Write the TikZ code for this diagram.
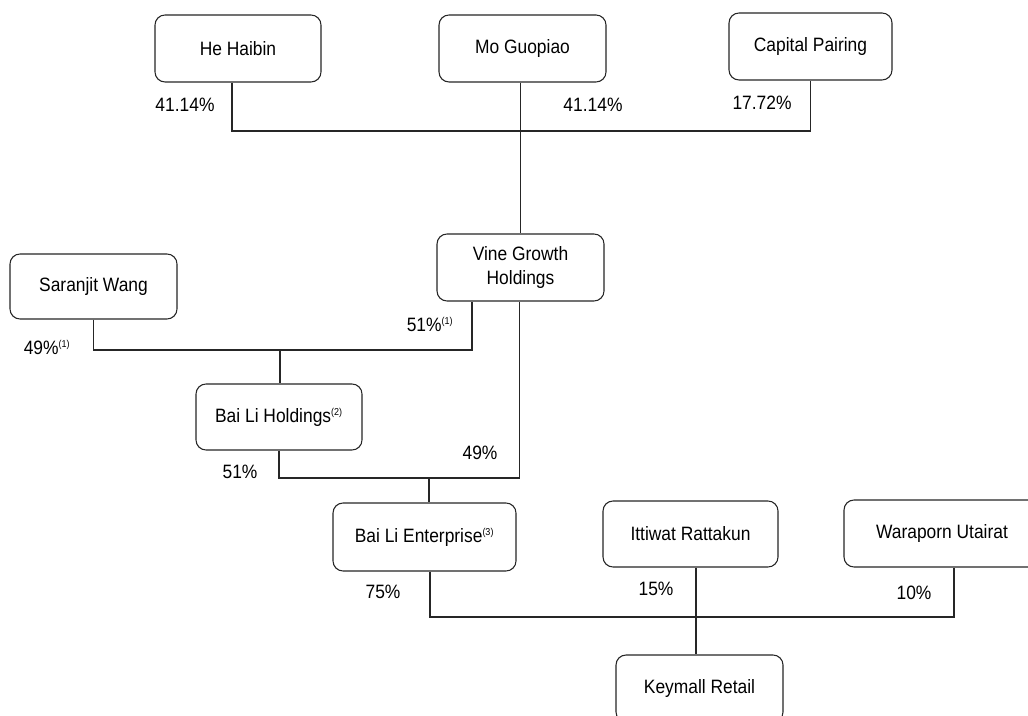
\documentclass[tikz,border=0pt]{standalone}
\usepackage{fontspec}
\setmainfont{Liberation Sans}[FakeStretch=0.9]
\newcommand{\fnref}[1]{\textsuperscript{\fontsize{7.5}{8}\selectfont(#1)}}
\begin{document}
\begin{tikzpicture}[x=0.75pt, y=-0.75pt,
  entity/.style={draw=black!85, line width=0.8pt, rounded corners=7.5pt, fill=white,
    inner sep=0pt, align=center, font=\fontsize{14.5}{17.3}\selectfont},
  share/.style={inner sep=0pt, font=\fontsize{14.5}{15}\selectfont},
  link/.style={draw=black!85, line width=0.8pt}]
\useasboundingbox (0,0) rectangle (1028,716);
\clip (0,0) rectangle (1028,716);

% shareholders at the top
\node[entity, minimum width=124.5pt, minimum height=50.25pt] (hh) at (238,48.5) {He Haibin};
\node[entity, minimum width=125.25pt, minimum height=50.25pt] (mg) at (522.5,48.5) {Mo Guopiao};
\node[entity, minimum width=122.25pt, minimum height=50.25pt] (cp) at (810.5,46.5) {Capital Pairing};

% middle holding layer
\node[entity, minimum width=125.25pt, minimum height=50.25pt] (vg) at (520.5,267.5) {Vine Growth\\Holdings};
\node[entity, minimum width=125.25pt, minimum height=48.75pt] (sw) at (93.5,286.5) {Saranjit Wang};
\node[entity, minimum width=124.5pt, minimum height=49.5pt] (bh) at (279,417) {Bai Li Holdings\fnref{2}};

% operating layer
\node[entity, minimum width=137.25pt, minimum height=51pt] (be) at (424.5,537) {Bai Li Enterprise\fnref{3}};
\node[entity, minimum width=131.25pt, minimum height=49.5pt] (it) at (690.5,534) {Ittiwat Rattakun};
\node[entity, minimum width=147pt, minimum height=50.25pt] (wu) at (942,533.5) {Waraporn Utairat};
\node[entity, minimum width=125.25pt, minimum height=50.25pt] (km) at (699.5,688.5) {Keymall Retail};

% junction points of the ownership lines
\coordinate (j1) at (520,131);
\coordinate (j2) at (280,350);
\coordinate (j3) at (429,478);
\coordinate (j4) at (696,617);

% ownership lines
\draw[link] ([xshift=-4.5pt]hh.south) |- (j1) -| (cp.south);
\draw[link] (vg.north |- mg.south) -- (vg.north);
\draw[link] (sw.south) |- (j2) -| ([xshift=-36.4pt]vg.south);
\draw[link] (j2) -- (j2 |- bh.north);
\draw[link] (bh.south) |- (j3) -| ([xshift=-1pt]vg.south);
\draw[link] (j3) -- (j3 |- be.north);
\draw[link] ([xshift=4.1pt]be.south) |- (j4) -| ([xshift=9pt]wu.south);
\draw[link] (j4 |- it.south) -- (j4 |- km.north);

% shareholding percentages
\node[share] (p1) at (185,105) {41.14\%};
\node[share] (p2) at (593,105) {41.14\%};
\node[share] (p3) at (762,103) {17.72\%};
\node[share] (p4) at (430,324) {51\%\fnref{1}};
\node[share] (p5) at (47,347) {49\%\fnref{1}};
\node[share] (p6) at (480,453) {49\%};
\node[share] (p7) at (240,472) {51\%};
\node[share] (p8) at (383,592) {75\%};
\node[share] (p9) at (656,589) {15\%};
\node[share] (p10) at (914,593) {10\%};
\end{tikzpicture}
\end{document}
